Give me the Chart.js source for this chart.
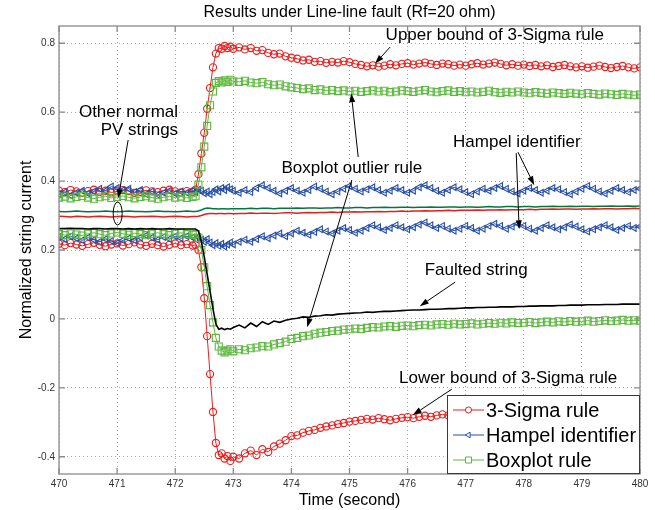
<!DOCTYPE html>
<html>
<head>
<meta charset="utf-8">
<script src="https://cdn.jsdelivr.net/npm/chart.js@4.4.1/dist/chart.umd.min.js"></script>
<style>
  body { margin: 0; background: #fff; }
  canvas { display: block; }
</style>
</head>
<body>
<canvas id="chart" width="655" height="510"></canvas>
<script>
// time samples (s): 0.1 s steps, 0.05 s around the fault
const time = [
  470, 470.1, 470.2, 470.3, 470.4, 470.5, 470.6, 470.7, 470.8, 470.9,
  471, 471.1, 471.2, 471.3, 471.4, 471.5, 471.6, 471.7, 471.8, 471.9,
  472, 472.1, 472.2, 472.3,
  472.35, 472.4, 472.45, 472.5, 472.55, 472.6, 472.65, 472.7, 472.75, 472.8, 472.85, 472.9, 472.95, 473,
  473.1, 473.2, 473.3, 473.4, 473.5, 473.6, 473.7, 473.8, 473.9,
  474, 474.1, 474.2, 474.3, 474.4, 474.5, 474.6, 474.7, 474.8, 474.9,
  475, 475.1, 475.2, 475.3, 475.4, 475.5, 475.6, 475.7, 475.8, 475.9,
  476, 476.1, 476.2, 476.3, 476.4, 476.5, 476.6, 476.7, 476.8, 476.9,
  477, 477.1, 477.2, 477.3, 477.4, 477.5, 477.6, 477.7, 477.8, 477.9,
  478, 478.1, 478.2, 478.3, 478.4, 478.5, 478.6, 478.7, 478.8, 478.9,
  479, 479.1, 479.2, 479.3, 479.4, 479.5, 479.6, 479.7, 479.8, 479.9,
  480
];

const sigmaUpper = [
  0.372, 0.368, 0.374, 0.370, 0.366, 0.371, 0.375, 0.369, 0.372, 0.367, 0.370, 0.374,
  0.371, 0.366, 0.369, 0.373, 0.370, 0.368, 0.372, 0.375, 0.370, 0.367, 0.371, 0.369,
  0.375, 0.420, 0.480, 0.540, 0.610, 0.670, 0.730, 0.770, 0.786, 0.784, 0.792, 0.786, 0.790, 0.784,
  0.788, 0.782, 0.786, 0.778, 0.780, 0.772, 0.768, 0.770, 0.762,
  0.758, 0.755, 0.750, 0.752, 0.746, 0.748, 0.743, 0.746, 0.744, 0.748,
  0.745, 0.740, 0.737, 0.733, 0.736, 0.732, 0.735, 0.739, 0.736, 0.740,
  0.742, 0.738, 0.741, 0.744, 0.740, 0.737, 0.741, 0.739, 0.735, 0.738,
  0.735, 0.739, 0.742, 0.738, 0.741, 0.744, 0.740, 0.736, 0.739, 0.735,
  0.738, 0.734, 0.737, 0.733, 0.736, 0.731, 0.734, 0.737, 0.733, 0.730,
  0.733, 0.729, 0.732, 0.735, 0.731, 0.728, 0.731, 0.734, 0.730, 0.727,
  0.730
];

const sigmaLower = [
  0.218, 0.214, 0.220, 0.216, 0.212, 0.217, 0.221, 0.215, 0.211, 0.216, 0.219, 0.213,
  0.217, 0.222, 0.216, 0.212, 0.218, 0.214, 0.210, 0.215, 0.219, 0.214, 0.217, 0.213,
  0.215, 0.200, 0.150, 0.060, -0.050, -0.160, -0.270, -0.360, -0.395, -0.390, -0.405, -0.398, -0.412, -0.400,
  -0.405, -0.390, -0.382, -0.395, -0.378, -0.386, -0.370, -0.362, -0.352,
  -0.340, -0.338, -0.330, -0.325, -0.322, -0.316, -0.312, -0.309, -0.305, -0.302,
  -0.298, -0.296, -0.293, -0.290, -0.292, -0.288, -0.291, -0.294, -0.290, -0.287,
  -0.285, -0.288, -0.284, -0.281, -0.284, -0.280, -0.277, -0.280, -0.276, -0.279,
  -0.276, -0.279, -0.275, -0.272, -0.276, -0.273, -0.270, -0.274, -0.271, -0.274,
  -0.272, -0.269, -0.273, -0.270, -0.268, -0.271, -0.268, -0.265, -0.269, -0.266,
  -0.268, -0.265, -0.268, -0.264, -0.267, -0.264, -0.262, -0.266, -0.263, -0.265,
  -0.262
];

const hampelUpper = [
  0.362, 0.368, 0.358, 0.366, 0.372, 0.364, 0.370, 0.378, 0.372, 0.384, 0.380, 0.374,
  0.378, 0.368, 0.374, 0.362, 0.370, 0.360, 0.366, 0.372, 0.364, 0.370, 0.366, 0.372,
  0.368, 0.375, 0.372, 0.365, 0.370, 0.362, 0.368, 0.376, 0.370, 0.380, 0.374, 0.382, 0.376, 0.372,
  0.366, 0.374, 0.368, 0.380, 0.388, 0.380, 0.372, 0.364, 0.372,
  0.380, 0.372, 0.366, 0.374, 0.384, 0.378, 0.370, 0.362, 0.370, 0.378,
  0.386, 0.378, 0.370, 0.376, 0.382, 0.374, 0.366, 0.372, 0.380, 0.374,
  0.366, 0.372, 0.382, 0.388, 0.380, 0.372, 0.366, 0.374, 0.382, 0.376,
  0.368, 0.362, 0.370, 0.378, 0.372, 0.380, 0.386, 0.378, 0.370, 0.364,
  0.372, 0.380, 0.374, 0.366, 0.372, 0.380, 0.376, 0.368, 0.362, 0.370,
  0.378, 0.386, 0.378, 0.370, 0.364, 0.372, 0.380, 0.374, 0.368, 0.374,
  0.378
];

const hampelLower = [
  0.238, 0.232, 0.240, 0.234, 0.228, 0.236, 0.230, 0.224, 0.232, 0.226, 0.220, 0.228,
  0.234, 0.228, 0.236, 0.242, 0.236, 0.230, 0.238, 0.232, 0.240, 0.234, 0.240, 0.236,
  0.232, 0.238, 0.230, 0.224, 0.232, 0.222, 0.214, 0.220, 0.212, 0.218, 0.210, 0.216, 0.222, 0.216,
  0.224, 0.230, 0.224, 0.232, 0.240, 0.234, 0.242, 0.248, 0.240,
  0.248, 0.256, 0.250, 0.244, 0.252, 0.260, 0.254, 0.248, 0.256, 0.264,
  0.258, 0.250, 0.256, 0.264, 0.272, 0.266, 0.258, 0.264, 0.272, 0.266,
  0.260, 0.266, 0.274, 0.280, 0.272, 0.264, 0.270, 0.262, 0.256, 0.262,
  0.270, 0.264, 0.256, 0.262, 0.270, 0.276, 0.270, 0.262, 0.268, 0.276,
  0.270, 0.262, 0.256, 0.264, 0.272, 0.266, 0.260, 0.266, 0.274, 0.268,
  0.260, 0.254, 0.260, 0.266, 0.272, 0.266, 0.258, 0.264, 0.270, 0.264,
  0.268
];

const boxUpper = [
  0.352, 0.355, 0.350, 0.354, 0.357, 0.352, 0.349, 0.353, 0.356, 0.351, 0.354, 0.357,
  0.353, 0.350, 0.354, 0.356, 0.352, 0.349, 0.353, 0.356, 0.352, 0.355, 0.351, 0.354,
  0.356, 0.390, 0.440, 0.500, 0.560, 0.620, 0.660, 0.685, 0.690, 0.686, 0.692, 0.688, 0.694, 0.689,
  0.688, 0.691, 0.686, 0.684, 0.687, 0.681, 0.678, 0.680, 0.675,
  0.672, 0.670, 0.667, 0.669, 0.664, 0.666, 0.662, 0.664, 0.661, 0.663,
  0.660, 0.662, 0.659, 0.661, 0.663, 0.660, 0.662, 0.658, 0.660, 0.663,
  0.661, 0.659, 0.662, 0.664, 0.660, 0.658, 0.661, 0.663, 0.659, 0.661,
  0.658, 0.660, 0.657, 0.659, 0.662, 0.658, 0.656, 0.659, 0.657, 0.660,
  0.657, 0.655, 0.658, 0.656, 0.654, 0.657, 0.655, 0.653, 0.656, 0.654,
  0.652, 0.655, 0.653, 0.651, 0.654, 0.652, 0.650, 0.653, 0.651, 0.649,
  0.651
];

const boxLower = [
  0.246, 0.243, 0.248, 0.245, 0.242, 0.247, 0.250, 0.246, 0.243, 0.248, 0.251, 0.247,
  0.244, 0.249, 0.246, 0.243, 0.247, 0.250, 0.246, 0.243, 0.247, 0.250, 0.246, 0.244,
  0.246, 0.235, 0.200, 0.150, 0.095, 0.040, -0.010, -0.055, -0.080, -0.092, -0.097, -0.092, -0.088, -0.094,
  -0.088, -0.091, -0.085, -0.083, -0.079, -0.080, -0.074, -0.070, -0.066,
  -0.058, -0.055, -0.050, -0.048, -0.043, -0.040, -0.038, -0.035, -0.034, -0.031,
  -0.030, -0.028, -0.029, -0.026, -0.024, -0.025, -0.022, -0.021, -0.023, -0.020,
  -0.019, -0.021, -0.018, -0.017, -0.019, -0.016, -0.015, -0.017, -0.014, -0.016,
  -0.015, -0.013, -0.016, -0.014, -0.012, -0.014, -0.011, -0.013, -0.010, -0.012,
  -0.011, -0.009, -0.012, -0.010, -0.008, -0.010, -0.007, -0.009, -0.006, -0.008,
  -0.007, -0.005, -0.008, -0.006, -0.004, -0.006, -0.005, -0.003, -0.005, -0.004,
  -0.005
];

const faulted = [
  0.262, 0.262, 0.263, 0.262, 0.262, 0.261, 0.262, 0.262, 0.261, 0.262, 0.262, 0.261,
  0.262, 0.261, 0.262, 0.261, 0.262, 0.261, 0.261, 0.262, 0.261, 0.261, 0.261, 0.261,
  0.261, 0.255, 0.225, 0.180, 0.130, 0.080, 0.030, -0.015, -0.030, -0.027, -0.031, -0.028, -0.030, -0.025,
  -0.018, -0.026, -0.012, -0.022, -0.008, -0.016, -0.006, -0.010, -0.004,
  0.000, 0.002, 0.006, 0.005, 0.008, 0.009, 0.012, 0.011, 0.014, 0.015,
  0.016, 0.017, 0.018, 0.020, 0.019, 0.021, 0.022, 0.022, 0.023, 0.024,
  0.025, 0.026, 0.026, 0.027, 0.028, 0.028, 0.029, 0.030, 0.030, 0.031,
  0.032, 0.032, 0.033, 0.033, 0.034, 0.034, 0.035, 0.035, 0.035, 0.036,
  0.036, 0.037, 0.037, 0.038, 0.038, 0.038, 0.039, 0.039, 0.040, 0.040,
  0.040, 0.041, 0.041, 0.041, 0.042, 0.042, 0.042, 0.043, 0.043, 0.043,
  0.043
];

// two of the other (healthy) strings
const normalGreen = [
  0.312, 0.311, 0.312, 0.313, 0.312, 0.311, 0.312, 0.312, 0.313, 0.312, 0.311, 0.312,
  0.313, 0.312, 0.312, 0.311, 0.312, 0.313, 0.312, 0.312, 0.311, 0.312, 0.313, 0.312,
  0.312, 0.313, 0.316, 0.320, 0.322, 0.321, 0.320, 0.320, 0.319, 0.320, 0.320, 0.319, 0.320, 0.320,
  0.320, 0.320, 0.321, 0.320, 0.321, 0.321, 0.320, 0.321, 0.321,
  0.321, 0.322, 0.321, 0.322, 0.322, 0.321, 0.322, 0.322, 0.323, 0.322,
  0.322, 0.323, 0.323, 0.322, 0.323, 0.323, 0.324, 0.323, 0.323, 0.324,
  0.324, 0.323, 0.324, 0.324, 0.325, 0.324, 0.324, 0.325, 0.325, 0.324,
  0.325, 0.325, 0.324, 0.325, 0.326, 0.325, 0.325, 0.326, 0.326, 0.325,
  0.326, 0.326, 0.325, 0.326, 0.326, 0.327, 0.326, 0.326, 0.327, 0.326,
  0.327, 0.327, 0.326, 0.327, 0.327, 0.328, 0.327, 0.327, 0.328, 0.327,
  0.328
];

const normalRed = [
  0.298, 0.297, 0.296, 0.298, 0.297, 0.296, 0.297, 0.298, 0.297, 0.296, 0.297, 0.298,
  0.297, 0.296, 0.297, 0.297, 0.298, 0.297, 0.296, 0.297, 0.298, 0.297, 0.296, 0.297,
  0.297, 0.298, 0.300, 0.303, 0.305, 0.306, 0.306, 0.305, 0.306, 0.306, 0.305, 0.306, 0.306, 0.305,
  0.306, 0.306, 0.307, 0.306, 0.307, 0.307, 0.306, 0.307, 0.308,
  0.308, 0.307, 0.308, 0.309, 0.308, 0.309, 0.309, 0.310, 0.309, 0.310,
  0.310, 0.311, 0.310, 0.311, 0.311, 0.312, 0.311, 0.312, 0.312, 0.313,
  0.312, 0.313, 0.313, 0.314, 0.313, 0.314, 0.314, 0.315, 0.314, 0.315,
  0.315, 0.315, 0.316, 0.315, 0.316, 0.316, 0.317, 0.316, 0.317, 0.317,
  0.317, 0.318, 0.317, 0.318, 0.318, 0.319, 0.318, 0.319, 0.319, 0.318,
  0.319, 0.319, 0.320, 0.319, 0.320, 0.320, 0.319, 0.320, 0.320, 0.321,
  0.320
];

const xTicks = [470, 471, 472, 473, 474, 475, 476, 477, 478, 479, 480];
const yTicks = [-0.4, -0.2, 0, 0.2, 0.4, 0.6, 0.8];
const yTickLabels = ['-0.4', '-0.2', '0', '0.2', '0.4', '0.6', '0.8'];
const legendLabels = ['3-Sigma rule', 'Hampel identifier', 'Boxplot rule'];

// text callouts, positioned in data units: [t, value]
const notes = [
  { lines: ['Upper bound of 3-Sigma rule'], at: [477.50, 0.824], align: 'center',
    arrows: [[475.70, 0.789, 475.44, 0.741]] },
  { lines: ['Other normal', 'PV strings'], at: [472.05, 0.600], align: 'right',
    arrows: [[471.19, 0.519, 471.02, 0.350]] },
  { lines: ['Hampel identifier'], at: [477.88, 0.513], align: 'center',
    arrows: [[477.90, 0.484, 478.18, 0.388], [477.87, 0.481, 477.92, 0.260]] },
  { lines: ['Boxplot outlier rule'], at: [475.04, 0.438], align: 'center',
    arrows: [[475.15, 0.470, 475.03, 0.655], [475.04, 0.403, 474.27, -0.024]] },
  { lines: ['Faulted string'], at: [477.18, 0.142], align: 'center',
    arrows: [[476.82, 0.107, 476.21, 0.037]] },
  { lines: ['Lower bound of 3-Sigma rule'], at: [477.73, -0.172], align: 'center',
    arrows: [[476.76, -0.204, 476.09, -0.279]] }
];
const ellipseAt = [471.01, 0.306];

const RED = 'rgb(236,28,28)';
const BLUE = 'rgb(38,78,168)';
const GREEN = 'rgb(92,184,62)';
const FONT = "'Liberation Sans', Arial, Helvetica, sans-serif";
Chart.defaults.font.family = FONT;

const pts = (ys) => time.map((t, i) => ({ x: t, y: ys[i] }));

function marked(label, ys, color, style, radius, order, rotation) {
  return {
    label: label,
    data: pts(ys),
    borderColor: color,
    borderWidth: 1,
    pointStyle: style,
    pointRadius: radius,
    pointRotation: rotation || 0,
    pointBorderColor: color,
    pointBackgroundColor: 'rgba(0,0,0,0)',
    pointBorderWidth: 1.1,
    order: order,
  };
}

function plain(label, ys, color, width, order) {
  return {
    label: label,
    data: pts(ys),
    borderColor: color,
    borderWidth: width,
    pointRadius: 0,
    order: order,
  };
}

const datasets = [
  marked('3-Sigma rule', sigmaUpper, RED, 'circle', 3.6, 4),
  marked('Hampel identifier', hampelUpper, BLUE, 'triangle', 3.8, 3, -90),
  marked('Boxplot rule', boxUpper, GREEN, 'rect', 5, 2),
  marked('3-Sigma lower', sigmaLower, RED, 'circle', 3.6, 4),
  marked('Hampel lower', hampelLower, BLUE, 'triangle', 3.8, 3, -90),
  marked('Boxplot lower', boxLower, GREEN, 'rect', 5, 2),
  plain('Faulted string', faulted, '#000', 1.6, 0),
  plain('Normal 1', normalGreen, 'rgb(0,120,60)', 1.5, 5),
  plain('Normal 2', normalRed, 'rgb(226,30,30)', 1.5, 5),
];

function arrow(ctx, x0, y0, x1, y1) {
  const a = Math.atan2(y1 - y0, x1 - x0);
  const L = 9, W = 3;
  const bx = x1 - L * Math.cos(a), by = y1 - L * Math.sin(a);
  ctx.beginPath();
  ctx.moveTo(x0, y0);
  ctx.lineTo(bx, by);
  ctx.stroke();
  ctx.beginPath();
  ctx.moveTo(x1, y1);
  ctx.lineTo(bx + W * Math.sin(a), by - W * Math.cos(a));
  ctx.lineTo(bx - W * Math.sin(a), by + W * Math.cos(a));
  ctx.closePath();
  ctx.fill();
}

const overlay = {
  id: 'overlay',
  afterDatasetsDraw(chart) {
    const { ctx, chartArea: a, scales: { x, y } } = chart;
    const px = (t) => x.getPixelForValue(t);
    const py = (v) => y.getPixelForValue(v);
    ctx.save();

    // box and inward ticks
    ctx.strokeStyle = '#8a8a8a';
    ctx.lineWidth = 1.3;
    ctx.strokeRect(a.left, a.top, a.right - a.left, a.bottom - a.top);
    ctx.beginPath();
    xTicks.forEach((t) => {
      const X = px(t);
      ctx.moveTo(X, a.bottom); ctx.lineTo(X, a.bottom - 6);
      ctx.moveTo(X, a.top); ctx.lineTo(X, a.top + 6);
    });
    yTicks.forEach((v) => {
      const Y = py(v);
      ctx.moveTo(a.left, Y); ctx.lineTo(a.left + 6, Y);
      ctx.moveTo(a.right, Y); ctx.lineTo(a.right - 6, Y);
    });
    ctx.stroke();

    // callouts
    ctx.fillStyle = '#000';
    ctx.strokeStyle = '#000';
    ctx.lineWidth = 1;
    ctx.font = '17px ' + FONT;
    ctx.textBaseline = 'middle';
    notes.forEach((n) => {
      ctx.textAlign = n.align;
      n.lines.forEach((s, i) => ctx.fillText(s, px(n.at[0]), py(n.at[1]) + i * 18));
      n.arrows.forEach((r) => arrow(ctx, px(r[0]), py(r[1]), px(r[2]), py(r[3])));
    });
    ctx.beginPath();
    ctx.ellipse(px(ellipseAt[0]), py(ellipseAt[1]), 4.5, 11.5, 0, 0, Math.PI * 2);
    ctx.stroke();

    // legend, lower right inside the axes
    const w = 193, h = 79;
    const lx = a.right - w, ly = a.bottom - h;
    ctx.fillStyle = '#fff';
    ctx.fillRect(lx, ly, w, h);
    ctx.strokeStyle = '#3a3a3a';
    ctx.strokeRect(lx + 0.5, ly + 0.5, w - 1, h - 1);
    ctx.font = '20px ' + FONT;
    ctx.textAlign = 'left';
    legendLabels.forEach((label, i) => {
      const ds = chart.data.datasets[i];
      const yy = ly + 15 + i * 25;
      ctx.strokeStyle = ds.borderColor;
      ctx.lineWidth = 1;
      ctx.beginPath();
      ctx.moveTo(lx + 6, yy);
      ctx.lineTo(lx + 37, yy);
      ctx.stroke();
      ctx.fillStyle = '#fff';
      Chart.helpers.drawPoint(ctx, {
        pointStyle: ds.pointStyle, radius: ds.pointRadius * 0.85, rotation: ds.pointRotation, borderWidth: 1
      }, lx + 21.5, yy);
      ctx.fillStyle = '#000';
      ctx.fillText(label, lx + 39, yy + 1);
    });
    ctx.restore();
  }
};

new Chart(document.getElementById('chart'), {
  type: 'line',
  data: { datasets: datasets },
  options: {
    responsive: false,
    animation: false,
    layout: { padding: { left: 0, right: 15, top: 0, bottom: 0 } },
    plugins: {
      legend: { display: false },
      tooltip: { enabled: false },
      title: {
        display: true,
        fullSize: false,
        text: 'Results under Line-line fault (Rf=20 ohm)',
        color: '#000',
        font: { size: 16, weight: 'normal', lineHeight: 1.2 },
        padding: { top: 3, bottom: 3.8 }
      }
    },
    scales: {
      x: {
        type: 'linear',
        min: 470,
        max: 480,
        afterBuildTicks: (s) => { s.ticks = xTicks.map((v) => ({ value: v })); },
        afterFit: (s) => { s.height = 36; },
        ticks: {
          callback: (v, i) => String(xTicks[i]),
          color: '#333',
          font: { size: 10 },
          padding: 4,
          maxRotation: 0,
          autoSkip: false
        },
        grid: { color: '#a6a6a6', lineWidth: 1, drawTicks: false },
        border: { display: false, dash: [1, 3] },
        title: {
          display: true,
          text: 'Time (second)',
          color: '#000',
          font: { size: 16 },
          padding: { top: 0, bottom: 0 }
        }
      },
      y: {
        type: 'linear',
        min: -0.45,
        max: 0.85,
        afterBuildTicks: (s) => { s.ticks = yTicks.map((v) => ({ value: v })); },
        afterFit: (s) => { s.width = 59; },
        ticks: {
          callback: (v, i) => yTickLabels[i],
          color: '#333',
          font: { size: 10 },
          padding: 4
        },
        grid: { color: '#a6a6a6', lineWidth: 1, drawTicks: false },
        border: { display: false, dash: [1, 3] },
        title: {
          display: true,
          text: 'Normalized string current',
          color: '#000',
          font: { size: 16 },
          padding: { top: 17, bottom: 0 }
        }
      }
    }
  },
  plugins: [overlay]
});
</script>
</body>
</html>
